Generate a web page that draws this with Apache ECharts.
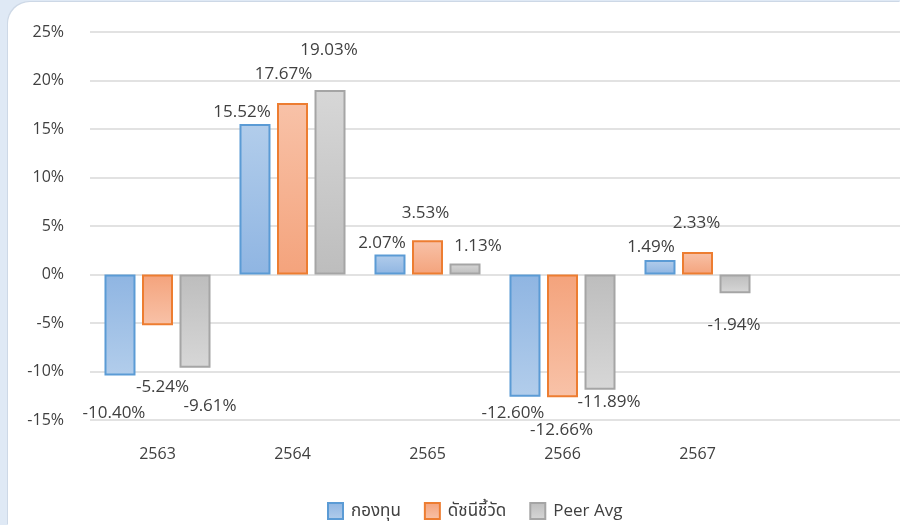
<!DOCTYPE html>
<html>
<head>
<meta charset="utf-8">
<script src="https://cdn.jsdelivr.net/npm/echarts@6/dist/echarts.min.js"></script>
<style>
  html, body { margin: 0; padding: 0; width: 900px; height: 525px; background: #dfe9f5; overflow: hidden; }
  #panel { position: absolute; left: 8px; top: 2px; width: 892px; height: 523px; background: #ffffff;
           border-top-left-radius: 22px; box-shadow: -1px -1px 0 #cdd8e6; }
  #chart { position: absolute; left: 0; top: 0; width: 892px; height: 523px; }
</style>
</head>
<body>
<div id="panel"><div id="chart"></div></div>
<script>
// ---- data ----
const categories = ['2563', '2564', '2565', '2566', '2567', ''];
const seriesNames = ['กองทุน', 'ดัชนีชี้วัด', 'Peer Avg'];
const fundValues  = [-10.40, 15.52, 2.07, -12.60, 1.49, null];
const indexValues = [-5.24, 17.67, 3.53, -12.66, 2.33, null];
const peerValues  = [-9.61, 19.03, 1.13, -11.89, -1.94, null];
const yTicks = { min: -15, max: 25, interval: 5 };

// ---- styles ----
const FONT = '"Open Sans", "Noto Sans", "Noto Sans Thai", "Liberation Sans", sans-serif';
const palette = [
  { border: '#5b9bd5', near: '#8fb5e2', far: '#b2cdeb' },
  { border: '#ed7d31', near: '#f4a37c', far: '#f8c2a8' },
  { border: '#a5a5a5', near: '#bdbdbd', far: '#d7d7d7' }
];
// label nudges (dx, dy) to mimic the reference label placement
const labelNudges = [
  [[-6, 24], [-13, 2], [-8, 2], [-12, 3], [-9, 1], [0, 0]],
  [[5, 48], [-9, -15], [-2, -14], [-1, 19], [-1, -15], [0, 0]],
  [[15, 25], [-1, -26], [13, -4], [9, -1], [-1, 18], [0, 0]]
];

function grad(p, v) {
  // darker near zero, lighter at the far end
  const topColor = v >= 0 ? p.far : p.near;
  const botColor = v >= 0 ? p.near : p.far;
  return new echarts.graphic.LinearGradient(0, 0, 0, 1, [
    { offset: 0, color: topColor }, { offset: 1, color: botColor }
  ]);
}

function buildSeries(name, values, idx) {
  const p = palette[idx];
  return {
    name: name,
    type: 'bar',
    barWidth: 31,
    barGap: '21%',
    itemStyle: { color: grad(p, -1), borderColor: p.border, borderWidth: 2 },
    data: values.map((v, i) => v === null ? null : ({
      value: v,
      itemStyle: { color: grad(p, v), borderColor: p.border, borderWidth: 2 },
      label: {
        show: true,
        position: v >= 0 ? 'top' : 'bottom',
        offset: labelNudges[idx][i]
      }
    })),
    label: {
      show: true,
      fontFamily: FONT,
      fontSize: 17,
      color: '#404040',
      formatter: (prm) => prm.value.toFixed(2) + '%'
    }
  };
}

const chart = echarts.init(document.getElementById('chart'), null, { renderer: 'canvas' });
chart.setOption({
  animation: false,
  backgroundColor: 'transparent',
  textStyle: { fontFamily: FONT },
  grid: { left: 82, right: -2, top: 30, bottom: 105, containLabel: false },
  legend: {
    left: 319, top: 500, padding: 0,
    itemWidth: 15, itemHeight: 16, itemGap: 23,
    textStyle: { fontFamily: FONT, fontSize: 17, color: '#404040', padding: [0, 0, 0, 3] },
    data: seriesNames.map((n, i) => ({ name: n, icon: 'rect' }))
  },
  xAxis: {
    type: 'category',
    data: categories,
    axisLine: { show: false },
    axisTick: { show: false },
    axisLabel: { fontFamily: FONT, fontSize: 16, color: '#404040', margin: 26 },
    splitLine: { show: false }
  },
  yAxis: {
    type: 'value',
    min: yTicks.min, max: yTicks.max, interval: yTicks.interval,
    axisLine: { show: false },
    axisTick: { show: false },
    axisLabel: { fontFamily: FONT, fontSize: 16, color: '#404040', margin: 26, formatter: '{value}%' },
    splitLine: { lineStyle: { color: '#d9d9d9', width: 1.5 } }
  },
  series: [
    buildSeries(seriesNames[0], fundValues, 0),
    buildSeries(seriesNames[1], indexValues, 1),
    buildSeries(seriesNames[2], peerValues, 2)
  ]
});
</script>
</body>
</html>
